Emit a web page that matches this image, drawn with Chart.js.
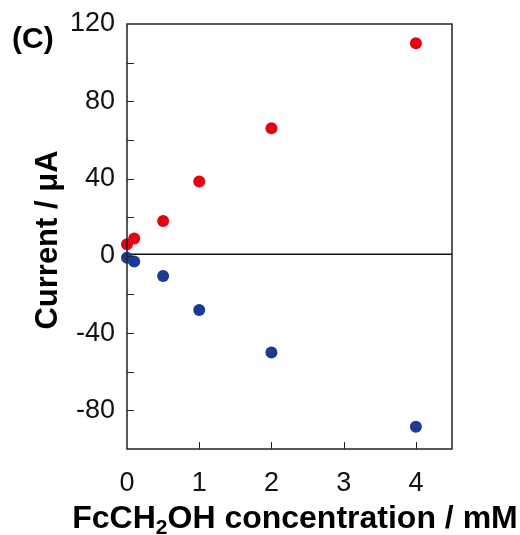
<!DOCTYPE html>
<html>
<head>
<meta charset="utf-8">
<script src="https://cdn.jsdelivr.net/npm/chart.js@4.4.1/dist/chart.umd.min.js"></script>
<style>
  html, body { margin: 0; padding: 0; background: #fff; }
  #wrap { width: 520px; height: 535px; position: relative; }
</style>
</head>
<body>
<div id="wrap"><canvas id="chart" width="520" height="535"></canvas></div>
<script>
// FcCH2OH concentration (mM)
var concentration = [0, 0.1, 0.5, 1, 2, 4];
// current (uA)
var anodicCurrent = [6, 9, 18, 38.5, 66, 110];
var cathodicCurrent = [-1, -3, -10.5, -28, -50, -88.5];

// tick positions; y labels only every 40
var xTickValues = [0, 1, 2, 3, 4];
var yTickValues = [-100, -80, -60, -40, -20, 0, 20, 40, 60, 80, 100, 120];
var yLabelEvery = 40;
var FONT = '"Liberation Sans", Arial, sans-serif';

function toPoints(xs, ys) {
  var pts = [];
  for (var i = 0; i < xs.length; i++) {
    pts.push({ x: xs[i], y: ys[i] });
  }
  return pts;
}

function setTicks(values) {
  return function (scale) {
    scale.ticks = values.map(function (v) {
      return { value: v };
    });
  };
}

// frame, zero line, inward ticks and the text that chart.js can't lay out
const framePlugin = {
  id: "frame",
  beforeDatasetsDraw(chart) {
    const c = chart.ctx;
    const a = chart.chartArea;
    const y0 = chart.scales.y.getPixelForValue(0) - 1.5;
    c.save();
    c.strokeStyle = "#111";
    c.lineWidth = 1.5;
    c.beginPath();
    c.moveTo(a.left, y0);
    c.lineTo(a.right, y0);
    c.stroke();
    c.restore();
  },
  afterDraw(chart) {
    const c = chart.ctx;
    const a = chart.chartArea;
    const xs = chart.scales.x;
    const ys = chart.scales.y;
    c.save();
    c.strokeStyle = "#222";
    c.lineWidth = 1.5;
    c.strokeRect(a.left, a.top, a.right - a.left, a.bottom - a.top);

    c.lineWidth = 1;
    c.beginPath();
    ys.ticks.forEach(function (t) {
      if (t.value <= ys.min || t.value >= ys.max) return;
      var py = Math.round(ys.getPixelForValue(t.value)) + 0.5;
      c.moveTo(a.left, py);
      c.lineTo(a.left + 7, py);
    });
    xs.ticks.forEach(function (t) {
      if (t.value <= xs.min || t.value >= xs.max) return;
      var px = Math.round(xs.getPixelForValue(t.value)) + 0.5;
      c.moveTo(px, a.bottom);
      c.lineTo(px, a.bottom - 7);
    });
    c.stroke();

    c.fillStyle = "#000";
    // panel label
    c.font = "bold 30px " + FONT;
    c.textAlign = "left";
    c.textBaseline = "alphabetic";
    c.fillText("(C)", 12, 48);

    // x title with subscript 2
    var parts = [
      { t: "FcCH", f: "bold 32px " + FONT, dy: 0 },
      { t: "2", f: "bold 21px " + FONT, dy: 6 },
      { t: "OH concentration / mM", f: "bold 32px " + FONT, dy: 0 },
    ];
    var total = 0;
    parts.forEach(function (p) {
      c.font = p.f;
      p.w = c.measureText(p.t).width;
      total += p.w;
    });
    var x = 295 - total / 2;
    parts.forEach(function (p) {
      c.font = p.f;
      c.fillText(p.t, x, 528 + p.dy);
      x += p.w;
    });

    // y title
    c.translate(48, 240);
    c.rotate(-Math.PI / 2);
    c.font = "bold 31px " + FONT;
    c.textAlign = "center";
    c.textBaseline = "middle";
    c.fillText("Current / \u03bcA", 0, 0);
    c.restore();
  },
};

const ctx = document.getElementById("chart").getContext("2d");
var myChart = new Chart(ctx, {
  type: "scatter",
  data: {
    datasets: [
      {
        label: "anodic",
        data: toPoints(concentration, anodicCurrent),
        backgroundColor: "#e60012",
        borderColor: "#e60012",
        pointRadius: 6,
        borderWidth: 0,
        clip: false,
      },
      {
        label: "cathodic",
        data: toPoints(concentration, cathodicCurrent),
        backgroundColor: "#1a3a96",
        borderColor: "#1a3a96",
        pointRadius: 6,
        borderWidth: 0,
        clip: false,
      },
    ],
  },
  options: {
    responsive: false,
    animation: false,
    layout: { padding: { top: 24, right: 68, bottom: 0, left: 0 } },
    plugins: {
      legend: { display: false },
      tooltip: { enabled: false },
    },
    scales: {
      x: {
        type: "linear",
        min: 0,
        max: 4.5,
        grid: { display: false, drawTicks: false },
        border: { display: false },
        afterBuildTicks: setTicks(xTickValues),
        ticks: {
          autoSkip: false,
          maxRotation: 0,
          padding: 18,
          color: "#111",
          font: { family: FONT, size: 27 },
        },
        afterFit: function (s) {
          s.height = 86;
          s.paddingLeft = 0;
          s.paddingRight = 0;
        },
      },
      y: {
        min: -100,
        max: 120,
        grid: { display: false, drawTicks: false },
        border: { display: false },
        afterBuildTicks: setTicks(yTickValues),
        ticks: {
          autoSkip: false,
          padding: 12,
          color: "#111",
          font: { family: FONT, size: 27 },
          callback: function (v) {
            return v % yLabelEvery === 0 ? String(v) : "";
          },
        },
        afterFit: function (s) {
          s.width = 127;
          s.paddingTop = 0;
          s.paddingBottom = 0;
        },
      },
    },
  },
  plugins: [framePlugin],
});
</script>
</body>
</html>
